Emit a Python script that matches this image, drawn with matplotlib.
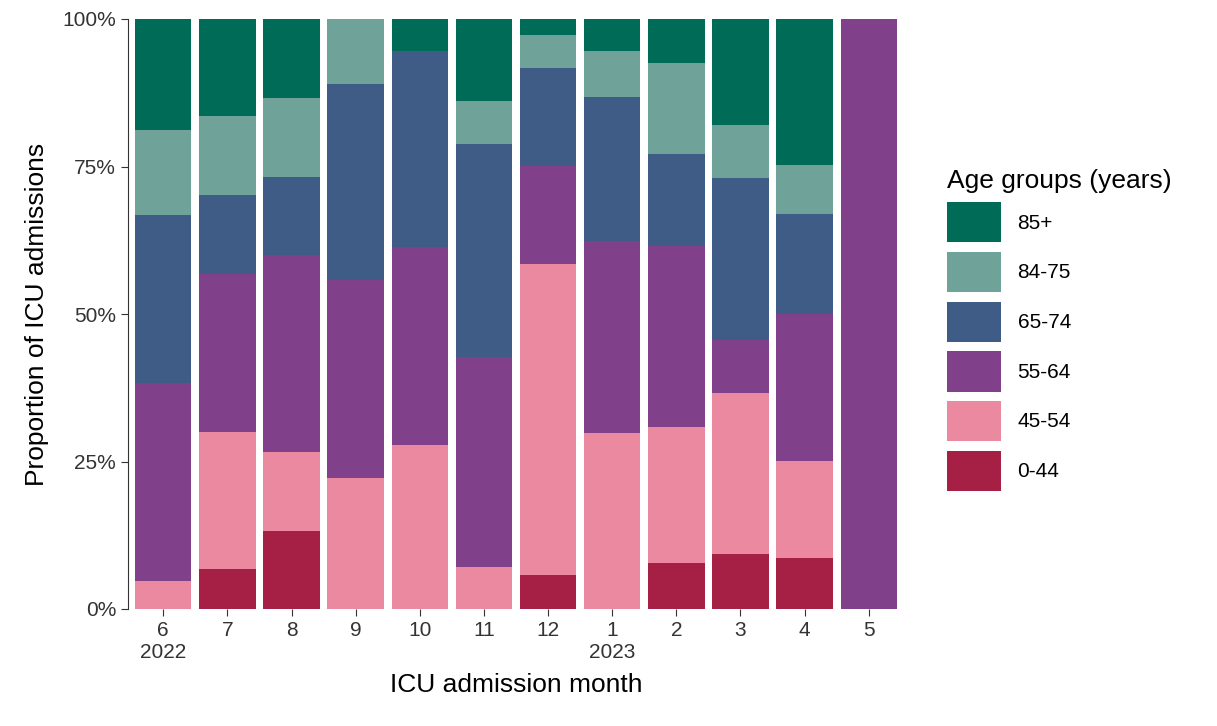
import matplotlib.pyplot as plt
import numpy as np
from matplotlib.patches import Patch

plt.rcParams['font.family'] = ['Liberation Sans', 'DejaVu Sans']

months = ['6\n2022', '7', '8', '9', '10', '11', '12', '1\n2023', '2', '3', '4', '5']
groups = ['0-44', '45-54', '55-64', '65-74', '84-75', '85+']
colors = ['#A61F45', '#EB89A0', '#80408A', '#3E5C85', '#6FA39A', '#006B57']

# cumulative tops (%) per group
top_0_44 = [0, 6.8, 13.2, 0, 0, 0, 5.8, 0, 7.8, 9.3, 8.6, 0]
top_45_54 = [4.7, 30.0, 26.6, 22.2, 27.8, 7.1, 58.5, 29.8, 30.8, 36.6, 25.1, 0]
top_55_64 = [38.3, 56.8, 60.0, 55.8, 61.4, 42.7, 75.1, 62.4, 61.5, 45.6, 50.0, 100]
top_65_74 = [66.8, 70.2, 73.2, 89.0, 94.6, 78.8, 91.7, 86.8, 77.1, 73.0, 66.9, 100]
top_84_75 = [81.2, 83.6, 86.6, 100, 94.6, 86.1, 97.3, 94.6, 92.5, 82.0, 75.3, 100]
top_85 = [100] * 12

tops = np.array([[0] * 12, top_0_44, top_45_54, top_55_64, top_65_74, top_84_75, top_85])
segments = np.diff(tops, axis=0) / 100

fig = plt.figure(figsize=(12.17, 7.26), dpi=100)
ax = fig.add_axes([128 / 1217, 1 - 609 / 726, (904 - 128) / 1217, 590 / 726])
x = np.arange(len(months))
bottom = np.zeros(len(months))
for seg, c in zip(segments, colors):
    ax.bar(x, seg, bottom=bottom, width=0.88, color=c, linewidth=0)
    bottom += seg

ax.set_xlim(-0.55, 11.55)
ax.set_ylim(0, 1)
ax.set_xticks(x)
ax.set_xticklabels(months, fontsize=15, color='#333333')
ax.set_yticks([0, 0.25, 0.5, 0.75, 1])
ax.set_yticklabels(['0%', '25%', '50%', '75%', '100%'], fontsize=15, color='#333333')
ax.tick_params(length=5, color='#333333')
for s in ['top', 'right', 'bottom']:
    ax.spines[s].set_visible(False)
ax.spines['left'].set_color('#333333')
ax.set_xlabel('ICU admission month', fontsize=19, labelpad=8)
ax.set_ylabel('Proportion of ICU admissions', fontsize=19, labelpad=10)

handles = [Patch(facecolor=c, label=g) for g, c in zip(groups, colors)][::-1]
fig.legend(handles=handles, loc='upper left', bbox_to_anchor=(928 / 1217, 1 - 150 / 726),
           title='Age groups (years)', title_fontsize=19, fontsize=15, frameon=False,
           handlelength=2.6, handleheight=2.6, labelspacing=0.45, alignment='left')

fig.savefig('out.png')
